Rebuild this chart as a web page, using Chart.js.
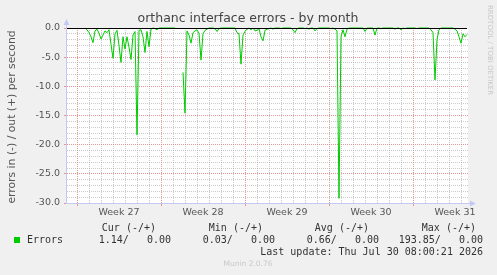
<!DOCTYPE html>
<html>
<head>
<meta charset="utf-8">
<script src="https://cdn.jsdelivr.net/npm/chart.js@4"></script>
<style>
html, body { margin: 0; padding: 0; background: #f0f0f0; }
#wrap { width: 497px; height: 275px; }
</style>
</head>
<body>
<div id="wrap"><canvas id="myChart" width="497" height="275"></canvas></div>
<script>
// week labels, hours counted from the start of week 27
var weekLabels = ['Week 27', 'Week 28', 'Week 29', 'Week 30', 'Week 31'];
var weekStartHours = [0, 168, 336, 504, 672];
var firstSampleHour = 16;
var sampleStepHours = 4;

// errors in (-), one value per 4 hours, one row per day
var errorsIn = [
    0, -0.3, -0.8, -1.5, -2.5, -0.5,
    -0.2, -0.9, -1.9, -1.2, -0.5, -0.8,
    -0.3, -2.8, -5.2, -1.0, -0.4, -3.0,
    -5.9, -1.5, -3.6, -1.5, -3.3, -5.4,
    -1.2, -0.6, -18.3, -0.4, -0.3, -1.5,
    -4.2, -0.6, -3.2, -0.2, 0, -0.1,
    -0.3, 0, 0, 0, 0, 0,
    0, 0, 0, 0, null, null,
    null, -7.6, -14.6, -0.5, -1.2, -2.6,
    -0.8, -0.5, -0.3, -0.9, -5.5, -1.0,
    -0.4, -0.2, 0, 0, 0, -0.1,
    -0.6, -0.1, 0, 0, 0, 0,
    0, 0, 0, 0, -0.8, -1.0,
    -6.2, -1.2, -0.6, -0.2, 0, -0.3,
    0, -0.5, -0.4, -0.1, -1.5, -2.2,
    -0.4, -0.2, -0.1, 0, -0.2, 0,
    0, 0, -0.1, 0, 0, 0,
    0, 0, -0.3, -0.8, -0.1, 0,
    0, 0, -0.1, 0, -0.2, 0,
    0, -0.5, -0.1, 0, 0, 0,
    0, 0, 0, -0.1, 0, -0.2,
    -0.5, -29.2, -1.5, -0.3, -1.5, -0.2,
    0, 0, 0, 0, 0, 0,
    0, 0, -0.6, 0, 0, 0,
    0, -1.2, 0, 0, -0.1, 0,
    0, 0, 0, 0, 0, -0.2,
    0, 0, -0.3, 0, -0.1, 0,
    0, 0, 0, 0, -0.1, 0,
    0, 0, 0, 0, 0, -0.3,
    -0.8, -8.9, -2.0, -0.3, 0, 0,
    0, 0, 0, 0, 0, -0.2,
    -0.5, -1.5, -2.6, -1.0, -1.5, -1.1
];

var legendHeaders = ['Cur (-/+)', 'Min (-/+)', 'Avg (-/+)', 'Max (-/+)'];
var legendValues = ['1.14/   0.00', '0.03/   0.00', '0.66/   0.00', '193.85/   0.00'];

var GREEN = '#00cc00';
var MAJOR = 'rgba(220,110,110,0.7)';
var MINOR = 'rgba(160,160,160,0.55)';
var AXIS = '#c4c8f4';

var points = errorsIn.map(function(v, i) {
    return { x: firstSampleHour + i * sampleStepHours, y: v };
});

var munin = {
    id: 'munin',
    beforeDraw: function(chart) {
        var c = chart.ctx, a = chart.chartArea;
        c.save();
        c.fillStyle = '#f0f0f0';
        c.fillRect(0, 0, chart.width, chart.height);
        c.fillStyle = '#ffffff';
        c.fillRect(a.left, a.top, a.right - a.left, a.bottom - a.top);
        c.restore();
    },
    afterDatasetsDraw: function(chart) {
        var c = chart.ctx, a = chart.chartArea;
        var y0 = Math.round(chart.scales.y.getPixelForValue(0)) + 0.5;
        c.save();
        c.strokeStyle = '#000';
        c.lineWidth = 1;
        c.beginPath();
        c.moveTo(a.left, y0);
        c.lineTo(a.right - 1, y0);
        c.stroke();
        c.restore();
    },
    afterDraw: function(chart) {
        var c = chart.ctx, a = chart.chartArea;
        c.save();
        // axes with arrows
        c.strokeStyle = AXIS;
        c.fillStyle = AXIS;
        c.lineWidth = 1;
        c.beginPath();
        c.moveTo(a.left - 0.5, a.bottom + 1);
        c.lineTo(a.left - 0.5, a.top - 5);
        c.moveTo(a.left - 1, a.bottom + 0.5);
        c.lineTo(a.right + 4, a.bottom + 0.5);
        c.stroke();
        c.beginPath();
        c.moveTo(a.left - 3.5, a.top - 3);
        c.lineTo(a.left + 2.5, a.top - 3);
        c.lineTo(a.left - 0.5, a.top - 9);
        c.closePath();
        c.fill();
        c.beginPath();
        c.moveTo(a.right + 2, a.bottom - 2.5);
        c.lineTo(a.right + 2, a.bottom + 3.5);
        c.lineTo(a.right + 8, a.bottom + 0.5);
        c.closePath();
        c.fill();

        // title
        c.fillStyle = '#444';
        c.font = '12.5px "DejaVu Sans"';
        c.textAlign = 'center';
        c.textBaseline = 'alphabetic';
        c.fillText('orthanc interface errors - by month', 248, 22);

        // y title
        c.save();
        c.translate(12, 117);
        c.rotate(-Math.PI / 2);
        c.font = '10.8px "DejaVu Sans"';
        c.fillStyle = '#555';
        c.textBaseline = 'middle';
        c.fillText('errors in (-) / out (+) per second', 0, 0);
        c.restore();

        // rrdtool credit
        c.save();
        c.translate(490, 5);
        c.rotate(Math.PI / 2);
        c.font = '7px "DejaVu Sans"';
        c.fillStyle = '#c8c8c8';
        c.textAlign = 'left';
        c.textBaseline = 'middle';
        c.fillText('RRDTOOL / TOBI OETIKER', 0, 0);
        c.restore();

        // legend
        c.font = '10px "DejaVu Sans Mono"';
        c.fillStyle = '#333';
        c.textBaseline = 'middle';
        c.textAlign = 'right';
        var headerEnds = [156, 263, 369, 476];
        var valueEnds = [171, 275, 379, 483];
        legendHeaders.forEach(function(t, i) { c.fillText(t, headerEnds[i], 228); });
        legendValues.forEach(function(t, i) { c.fillText(t, valueEnds[i], 240); });
        c.fillText('Last update: Thu Jul 30 08:00:21 2026', 483, 252);
        c.textAlign = 'left';
        c.fillText('Errors', 27, 240);
        c.fillStyle = GREEN;
        c.fillRect(14, 237, 6, 6);

        c.font = '7.5px "DejaVu Sans"';
        c.fillStyle = '#c8c8c8';
        c.textAlign = 'center';
        c.fillText('Munin 2.0.76', 248, 264);
        c.restore();
    }
};

var ctx = document.getElementById('myChart').getContext('2d');
var myChart = new Chart(ctx, {
    type: 'line',
    data: {
        datasets: [{
            label: 'Errors',
            data: points,
            borderColor: GREEN,
            borderWidth: 1,
            pointRadius: 0,
            tension: 0,
            spanGaps: false,
            fill: false,
            clip: 4
        }]
    },
    options: {
        responsive: false,
        animation: false,
        devicePixelRatio: 1,
        layout: { padding: { top: 28, right: 29, left: 0, bottom: 0 } },
        plugins: {
            legend: { display: false },
            tooltip: { enabled: false },
            title: { display: false }
        },
        scales: {
            x: {
                type: 'linear',
                min: -20,
                max: 782,
                afterBuildTicks: function(scale) {
                    var t = [];
                    for (var h = -12; h <= 780; h += 12) t.push({ value: h });
                    scale.ticks = t;
                },
                afterFit: function(scale) { scale.height = 72; },
                ticks: {
                    autoSkip: false,
                    maxRotation: 0,
                    padding: 1,
                    color: '#555',
                    font: { family: 'DejaVu Sans', size: 9.5 },
                    callback: function(v) {
                        var k = weekStartHours.indexOf(v - 84);
                        return k < 0 ? '' : weekLabels[k];
                    }
                },
                grid: {
                    tickLength: 3,
                    color: function(c) {
                        var v = c.tick ? c.tick.value : 1;
                        if (v % 168 === 0) return MAJOR;
                        if (v % 24 === 0) return MINOR;
                        return 'rgba(0,0,0,0)';
                    },
                    tickColor: function(c) {
                        var v = c.tick ? c.tick.value : 1;
                        return v % 168 === 0 ? MAJOR : 'rgba(0,0,0,0)';
                    }
                },
                border: { display: false, dash: [1, 1] }
            },
            y: {
                min: -30,
                max: 0,
                afterBuildTicks: function(scale) {
                    var t = [];
                    for (var v = -30; v <= 0; v += 1) t.push({ value: v });
                    scale.ticks = t;
                },
                afterFit: function(scale) { scale.width = 67; },
                ticks: {
                    autoSkip: false,
                    padding: 4,
                    color: '#555',
                    font: { family: 'DejaVu Sans', size: 9.5 },
                    callback: function(v) { return v % 5 === 0 ? v.toFixed(1) : ''; }
                },
                grid: {
                    tickLength: 3,
                    color: function(c) {
                        var v = c.tick ? c.tick.value : 1;
                        if (v === 0) return 'rgba(0,0,0,0)';
                        return v % 5 === 0 ? MAJOR : MINOR;
                    },
                    tickColor: function(c) {
                        var v = c.tick ? c.tick.value : 1;
                        return v % 5 === 0 ? MAJOR : 'rgba(0,0,0,0)';
                    }
                },
                border: { display: false, dash: [1, 1] }
            }
        }
    },
    plugins: [munin]
});
</script>
</body>
</html>
